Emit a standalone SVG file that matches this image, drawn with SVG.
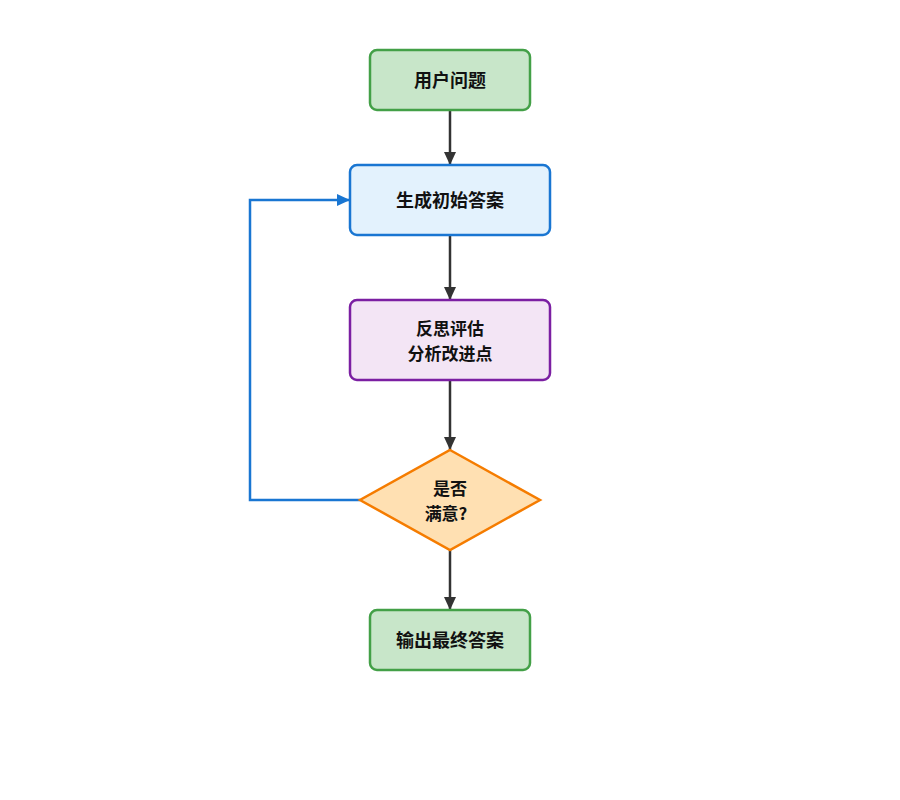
<svg xmlns="http://www.w3.org/2000/svg" width="900" height="800" viewBox="0 0 900 800">
<defs>
<marker id="ah" markerWidth="14" markerHeight="14" refX="13" refY="7" orient="auto" markerUnits="userSpaceOnUse"><path d="M0,1 L13,7 L0,13 Z" fill="#333333"/></marker>
<marker id="ahb" markerWidth="14" markerHeight="14" refX="13" refY="7" orient="auto" markerUnits="userSpaceOnUse"><path d="M0,1 L13,7 L0,13 Z" fill="#1976d2"/></marker>
<style>
text{font-family:"Noto Sans CJK SC","Noto Sans",sans-serif;font-size:18px;font-weight:bold;fill:#111;text-anchor:middle;dominant-baseline:central}
text.s{font-size:17px}
.g{fill:#c8e6c9;stroke:#43a047;stroke-width:2.5}
.b{fill:#e3f2fd;stroke:#1976d2;stroke-width:2.5}
.p{fill:#f3e5f5;stroke:#7b1fa2;stroke-width:2.5}
.o{fill:#ffe0b2;stroke:#f57c00;stroke-width:2.5}
.c{fill:none;stroke:#333333;stroke-width:2.5}
.l{fill:none;stroke:#1976d2;stroke-width:2.5}
</style>
</defs>
<rect width="900" height="800" fill="#ffffff"/>
<g id="connectors">
<line class="c" x1="450" y1="110" x2="450" y2="165" marker-end="url(#ah)"/>
<line class="c" x1="450" y1="235" x2="450" y2="300" marker-end="url(#ah)"/>
<line class="c" x1="450" y1="380" x2="450" y2="450" marker-end="url(#ah)"/>
<line class="c" x1="450" y1="550" x2="450" y2="610" marker-end="url(#ah)"/>
<polyline class="l" points="360,500 250,500 250,200 350,200" marker-end="url(#ahb)"/>
</g>
<g id="n1"><rect class="g" x="370" y="50" width="160" height="60" rx="7"/><text x="450" y="79">用户问题</text></g>
<g id="n2"><rect class="b" x="350" y="165" width="200" height="70" rx="7"/><text x="450" y="199">生成初始答案</text></g>
<g id="n3"><rect class="p" x="350" y="300" width="200" height="80" rx="7"/><text class="s" x="450" y="327">反思评估</text><text class="s" x="450" y="352.5">分析改进点</text></g>
<g id="n4"><polygon class="o" points="450,450 540,500 450,550 360,500"/><text class="s" x="450" y="487">是否</text><text class="s" x="446" y="512.5">满意?</text></g>
<g id="n5"><rect class="g" x="370" y="610" width="160" height="60" rx="7"/><text x="450" y="639">输出最终答案</text></g>
</svg>
